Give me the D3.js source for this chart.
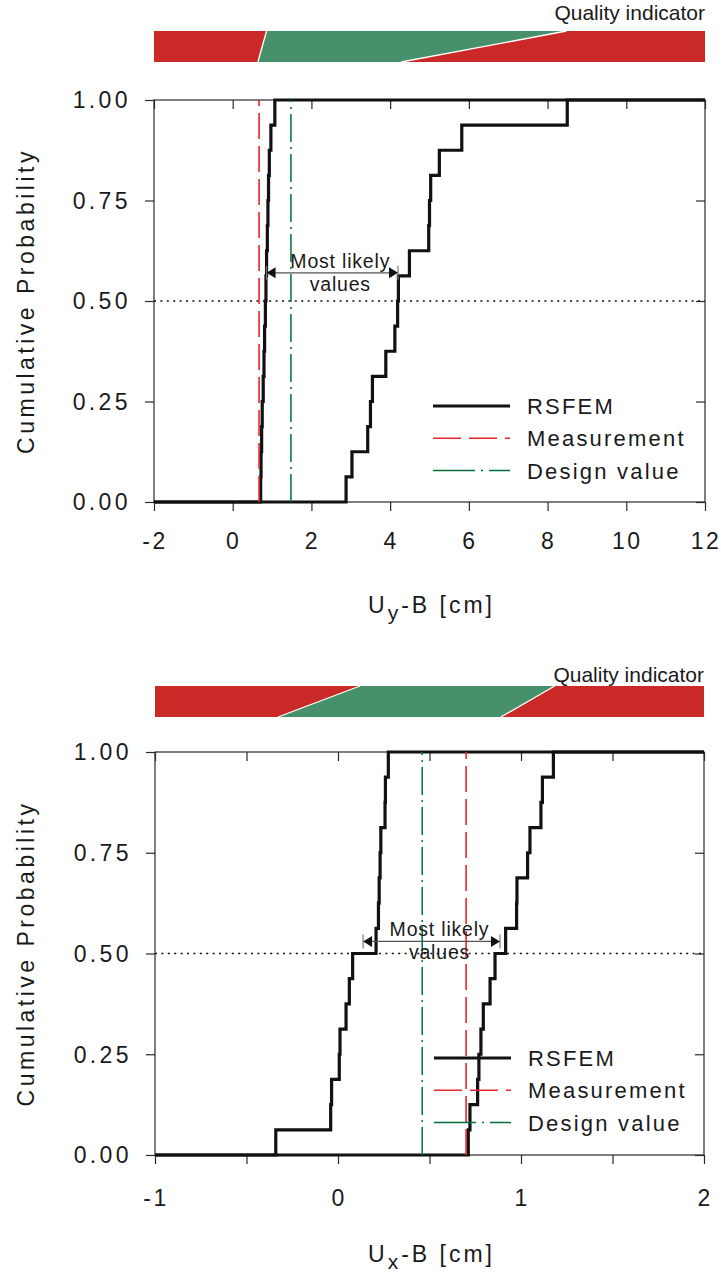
<!DOCTYPE html>
<html>
<head>
<meta charset="utf-8">
<script src="https://cdn.jsdelivr.net/npm/d3@7"></script>
<style>
  body { margin: 0; background: #fff; }
  text { font-family: "Liberation Sans", Arial, sans-serif; fill: #1a1a1a; }
</style>
</head>
<body>
<svg id="chart"></svg>
<script>
// cumulative probability levels for 16 sorted samples
var probLevels = [0, 0.0625, 0.125, 0.1875, 0.25, 0.3125, 0.375, 0.4375, 0.5,
                  0.5625, 0.625, 0.6875, 0.75, 0.8125, 0.875, 0.9375, 1];
var probTicks = [0, 0.25, 0.5, 0.75, 1];

// top panel: Uy-B
var uyLower = [0.71, 0.72, 0.735, 0.75, 0.775, 0.795, 0.81, 0.83, 0.845, 0.86, 0.88, 0.895, 0.91, 0.93, 0.97, 1.07];
var uyUpper = [2.88, 3.03, 3.43, 3.50, 3.55, 3.89, 4.12, 4.19, 4.21, 4.49, 4.98, 5.00, 5.03, 5.25, 5.82, 8.50];
var uyMeasurement = 0.67;
var uyDesign = 1.48;
var uyTicks = [-2, 0, 2, 4, 6, 8, 10, 12];
var uyTickLabels = [-2, 0, 2, 4, 6, 8, 10, 12];
var uyQualityTop = [0.86, 8.48];     // green band edges along the top of the bar
var uyQualityBottom = [0.64, 4.28];  // and along its bottom
var uyLikely = [0.86, 4.2];
var uyLikelyProb = 0.57;

// bottom panel: Ux-B
var uxLower = [-0.34, -0.04, -0.035, 0.007, 0.011, 0.044, 0.062, 0.08, 0.208, 0.221, 0.225, 0.23, 0.234, 0.257, 0.259, 0.275];
var uxUpper = [0.712, 0.721, 0.763, 0.770, 0.781, 0.794, 0.831, 0.858, 0.916, 0.976, 0.978, 1.036, 1.049, 1.109, 1.117, 1.177];
var uxMeasurement = 0.70;
var uxDesign = 0.46;
var uxTicks = [-1, -0.5, 0, 0.5, 1, 1.5, 2];
var uxTickLabels = [-1, 0, 1, 2];
var uxQualityTop = [0.12, 1.184];
var uxQualityBottom = [-0.328, 0.89];
var uxLikely = [0.137, 0.885];
var uxLikelyProb = 0.53;

var legendLabels = ['RSFEM', 'Measurement', 'Design value'];

var RED_BAR = '#c92a27', GREEN_BAR = '#46916b';
var RED_LINE = '#e8262c', GREEN_LINE = '#00703f';

var svg = d3.select('#chart').attr('width', 721).attr('height', 1276);

function drawPanel(p) {
  var x = d3.scaleLinear().domain(p.domain).range([p.left, p.right]);
  var y = d3.scaleLinear().domain([0, 1]).range([p.bottom, p.top]);
  var g = svg.append('g');

  // quality indicator bar
  var b0 = p.barY[0], b1 = p.barY[1];
  g.append('rect')
    .attr('x', x(p.domain[0])).attr('y', b0)
    .attr('width', x(p.domain[1]) - x(p.domain[0])).attr('height', b1 - b0)
    .attr('fill', RED_BAR);
  var band = [[x(p.qTop[0]), b0], [x(p.qTop[1]), b0], [x(p.qBottom[1]), b1], [x(p.qBottom[0]), b1]];
  g.append('polygon')
    .attr('points', band.map(function(d) { return d.join(','); }).join(' '))
    .attr('fill', GREEN_BAR);
  [0, 1].forEach(function(i) {
    g.append('line')
      .attr('x1', x(p.qTop[i])).attr('y1', b0)
      .attr('x2', x(p.qBottom[i])).attr('y2', b1)
      .attr('stroke', '#fff').attr('stroke-width', 1.3);
  });
  g.append('text')
    .attr('x', p.right).attr('y', p.qTextY)
    .attr('text-anchor', 'end')
    .attr('font-size', 21)
    .text('Quality indicator');

  // frame
  g.append('rect')
    .attr('x', p.left).attr('y', p.top)
    .attr('width', p.right - p.left).attr('height', p.bottom - p.top)
    .attr('fill', 'none').attr('stroke', '#2a2a2a').attr('stroke-width', 1.2);

  // axes (ticks only, labels drawn separately)
  function styleAxis(sel) {
    sel.select('.domain').remove();
    sel.selectAll('.tick line').attr('stroke', '#2a2a2a').attr('stroke-width', 1.2);
    sel.selectAll('.tick text').remove();
  }
  g.append('g').attr('transform', 'translate(0,' + p.bottom + ')')
    .call(d3.axisBottom(x).tickValues(p.ticks).tickSize(9)).call(styleAxis);
  g.append('g').attr('transform', 'translate(0,' + p.top + ')')
    .call(d3.axisTop(x).tickValues(p.ticks).tickSize(-9)).call(styleAxis);
  g.append('g').attr('transform', 'translate(' + p.left + ',0)')
    .call(d3.axisLeft(y).tickValues(probTicks).tickSize(9)).call(styleAxis);
  g.append('g').attr('transform', 'translate(' + p.right + ',0)')
    .call(d3.axisRight(y).tickValues(probTicks).tickSize(-9)).call(styleAxis);

  g.selectAll('.xlab').data(p.tickLabels).enter().append('text')
    .attr('x', function(d) { return x(d) + 1; })
    .attr('y', p.bottom + p.xLabelOffset)
    .attr('text-anchor', 'middle')
    .attr('font-size', 23)
    .style('letter-spacing', '2.4px')
    .text(function(d) { return String(d); });

  g.selectAll('.ylab').data(probTicks).enter().append('text')
    .attr('x', p.left - 23)
    .attr('y', function(d) { return y(d); })
    .attr('dy', '0.36em')
    .attr('text-anchor', 'end')
    .attr('font-size', 23)
    .style('letter-spacing', '3.4px')
    .text(d3.format('.2f'));

  // axis titles
  g.append('text')
    .attr('transform', 'translate(34,' + (p.top + p.bottom) / 2 + ') rotate(-90)')
    .attr('text-anchor', 'middle')
    .attr('font-size', 23)
    .style('letter-spacing', '3.5px')
    .text('Cumulative Probability');

  var xt = g.append('text')
    .attr('x', (p.left + p.right) / 2 + 2)
    .attr('y', p.bottom + p.xTitleOffset)
    .attr('text-anchor', 'middle')
    .attr('font-size', 23)
    .style('letter-spacing', '3px');
  xt.append('tspan').text('U');
  xt.append('tspan').attr('dy', 7).attr('font-size', 21).text(p.sub);
  xt.append('tspan').attr('dy', -7).text('-B [cm]');

  // 0.5 reference
  g.append('line')
    .attr('x1', p.left).attr('x2', p.right)
    .attr('y1', y(0.5)).attr('y2', y(0.5))
    .attr('stroke', '#111').attr('stroke-width', 1.6)
    .attr('stroke-dasharray', '2,4.4');

  // RSFEM step curves
  var line = d3.line()
    .x(function(d) { return x(d[0]); })
    .y(function(d) { return y(d[1]); })
    .curve(d3.curveStepAfter);
  [p.lower, p.upper].forEach(function(s) {
    var pts = [[p.domain[0], probLevels[0]]]
      .concat(s.map(function(v, i) { return [v, probLevels[i + 1]]; }))
      .concat([[p.domain[1], 1]]);
    g.append('path')
      .attr('d', line(pts))
      .attr('fill', 'none')
      .attr('stroke', '#111')
      .attr('stroke-width', 3.2)
      .attr('stroke-linejoin', 'miter');
  });

  // measurement and design value
  g.append('line')
    .attr('x1', x(p.design)).attr('x2', x(p.design))
    .attr('y1', p.bottom).attr('y2', p.top)
    .attr('stroke', GREEN_LINE).attr('stroke-width', 1.5)
    .attr('stroke-dasharray', '28,5,2,5');
  g.append('line')
    .attr('x1', x(p.measurement)).attr('x2', x(p.measurement))
    .attr('y1', p.bottom).attr('y2', p.top)
    .attr('stroke', RED_LINE).attr('stroke-width', 1.6)
    .attr('stroke-dasharray', '26,7');

  // most likely values annotation
  var ay = y(p.likelyProb), ax0 = x(p.likely[0]), ax1 = x(p.likely[1]);
  g.append('line')
    .attr('x1', ax0 + 8).attr('x2', ax1 - 8)
    .attr('y1', ay).attr('y2', ay)
    .attr('stroke', '#555').attr('stroke-width', 1.2);
  [ax0, ax1].forEach(function(ax, i) {
    var dir = i === 0 ? 1 : -1;
    g.append('line')
      .attr('x1', ax).attr('x2', ax)
      .attr('y1', ay - 7).attr('y2', ay + 7)
      .attr('stroke', '#777').attr('stroke-width', 1.2);
    g.append('path')
      .attr('d', 'M' + ax + ',' + ay + 'L' + (ax + dir * 9) + ',' + (ay - 5.5) +
                 'L' + (ax + dir * 9) + ',' + (ay + 5.5) + 'Z')
      .attr('fill', '#111');
  });
  var cx = (ax0 + ax1) / 2 + 8;
  g.append('text').attr('x', cx).attr('y', ay - 5)
    .attr('text-anchor', 'middle').attr('font-size', 19.5)
    .style('letter-spacing', '0.8px').text('Most likely');
  g.append('text').attr('x', cx).attr('y', ay + 18)
    .attr('text-anchor', 'middle').attr('font-size', 19.5)
    .style('letter-spacing', '0.8px').text('values');

  // legend
  var lg = g.append('g').attr('transform', 'translate(' + (p.left + 279) + ',' + (p.top + 306) + ')');
  var styles = [
    {stroke: '#111', width: 3.2, dash: null},
    {stroke: RED_LINE, width: 1.6, dash: '28,8'},
    {stroke: GREEN_LINE, width: 1.5, dash: '42,6,2,6'}
  ];
  legendLabels.forEach(function(lab, i) {
    var row = lg.append('g').attr('transform', 'translate(0,' + i * 32.3 + ')');
    row.append('line')
      .attr('x1', 0).attr('x2', 77).attr('y1', 0).attr('y2', 0)
      .attr('stroke', styles[i].stroke).attr('stroke-width', styles[i].width)
      .attr('stroke-dasharray', styles[i].dash);
    row.append('text')
      .attr('x', 94).attr('y', 0).attr('dy', '0.36em')
      .attr('font-size', 22)
      .style('letter-spacing', '2.2px')
      .text(lab);
  });
}

drawPanel({
  domain: [-2, 12], left: 154, right: 705, top: 100, bottom: 502,
  ticks: uyTicks, tickLabels: uyTickLabels,
  lower: uyLower, upper: uyUpper,
  measurement: uyMeasurement, design: uyDesign,
  qTop: uyQualityTop, qBottom: uyQualityBottom,
  barY: [31, 62], qTextY: 20,
  likely: uyLikely, likelyProb: uyLikelyProb,
  xLabelOffset: 47, xTitleOffset: 111, sub: 'y'
});

drawPanel({
  domain: [-1, 2], left: 155, right: 704, top: 752, bottom: 1155,
  ticks: uxTicks, tickLabels: uxTickLabels,
  lower: uxLower, upper: uxUpper,
  measurement: uxMeasurement, design: uxDesign,
  qTop: uxQualityTop, qBottom: uxQualityBottom,
  barY: [686, 717], qTextY: 682,
  likely: uxLikely, likelyProb: uxLikelyProb,
  xLabelOffset: 51, xTitleOffset: 107, sub: 'x'
});
</script>
</body>
</html>
